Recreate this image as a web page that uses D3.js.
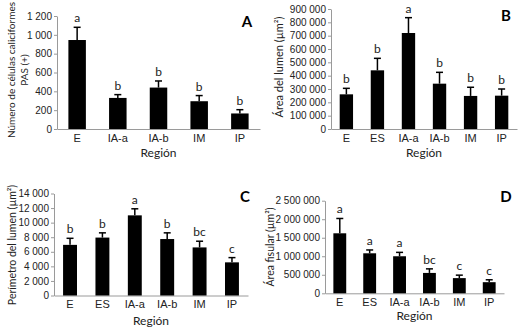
<!DOCTYPE html>
<html>
<head>
<meta charset="utf-8">
<script src="https://cdn.jsdelivr.net/npm/d3@7"></script>
<style>
  body { margin: 0; background: #fff; }
  svg { font-family: Lato, "Open Sans", sans-serif; }
</style>
</head>
<body>
<svg id="chart" width="528" height="328"></svg>
<script>
/* DATA */
const regionsA = ["E", "IA-a", "IA-b", "IM", "IP"];
const regionsBCD = ["E", "ES", "IA-a", "IA-b", "IM", "IP"];

// A: numero de celulas caliciformes
const meanA = [945, 330, 440, 295, 165];
const errA = [135, 35, 70, 60, 40];
const letA = ["a", "b", "b", "b", "b"];
const ticksA = [0, 200, 400, 600, 800, 1000, 1200];

// B: area del lumen
const meanB = [260000, 440000, 720000, 340000, 248000, 250000];
const errB = [45000, 90000, 115000, 85000, 65000, 50000];
const letB = ["b", "b", "a", "b", "b", "b"];
const ticksB = [0, 100000, 200000, 300000, 400000, 500000, 600000, 700000, 800000, 900000];

// C: perimetro del lumen
const meanC = [6950, 7950, 11000, 7750, 6600, 4550];
const errC = [900, 650, 900, 850, 850, 650];
const letC = ["b", "b", "a", "b", "bc", "c"];
const ticksC = [0, 2000, 4000, 6000, 8000, 10000, 12000, 14000];

// D: area fisular
const meanD = [1620000, 1080000, 1000000, 550000, 410000, 300000];
const errD = [400000, 90000, 105000, 110000, 80000, 65000];
const letD = ["a", "a", "a", "bc", "c", "c"];
const ticksD = [0, 500000, 1000000, 1500000, 2000000, 2500000];

const svg = d3.select("#chart");
const fmt = v => d3.format(",")(v).replace(/,/g, " ");

/// draw one panel
function panel(cfg) {
  const g = svg.append("g");

  const x = d3.scaleBand()
    .domain(cfg.cats)
    .range([cfg.x0, cfg.x1])
    .paddingInner(0.57)
    .paddingOuter(0.28);

  const y = d3.scaleLinear()
    .domain([0, d3.max(cfg.ticks)])
    .range([cfg.y0, cfg.y1]);

  // y axis
  const ya = g.append("g")
    .attr("transform", `translate(${cfg.x0},0)`)
    .call(d3.axisLeft(y).tickValues(cfg.ticks).tickFormat(fmt).tickSize(3).tickSizeOuter(0).tickPadding(2));
  ya.select(".domain").attr("stroke", "#9a9a9a");
  ya.selectAll(".tick line").attr("stroke", "#9a9a9a");
  ya.selectAll("text").attr("fill", "#222").style("font-size", "10px");

  // x axis
  const xa = g.append("g")
    .attr("transform", `translate(0,${cfg.y0})`)
    .call(d3.axisBottom(x).tickSize(0).tickPadding(5));
  xa.select(".domain").attr("stroke", "#9a9a9a");
  xa.selectAll("text").attr("fill", "#222").style("font-size", "11px");

  const rows = cfg.cats.map((c, i) => ({ c: c, m: cfg.mean[i], e: cfg.err[i], l: cfg.lets[i] }));

  // bars
  g.selectAll("rect.bar")
    .data(rows)
    .enter()
    .append("rect")
    .attr("x", d => x(d.c))
    .attr("y", d => y(d.m))
    .attr("width", x.bandwidth())
    .attr("height", d => y(0) - y(d.m))
    .attr("fill", "#000");

  // error bars (upper only)
  const cx = d => x(d.c) + x.bandwidth() / 2;
  g.selectAll("line.err")
    .data(rows)
    .enter()
    .append("line")
    .attr("x1", cx).attr("x2", cx)
    .attr("y1", d => y(d.m)).attr("y2", d => y(d.m + d.e))
    .attr("stroke", "#000").attr("stroke-width", 1.5);
  g.selectAll("line.cap")
    .data(rows)
    .enter()
    .append("line")
    .attr("x1", d => cx(d) - 3.5).attr("x2", d => cx(d) + 3.5)
    .attr("y1", d => y(d.m + d.e)).attr("y2", d => y(d.m + d.e))
    .attr("stroke", "#000").attr("stroke-width", 1.5);

  // significance letters
  g.selectAll("text.let")
    .data(rows)
    .enter()
    .append("text")
    .attr("x", cx)
    .attr("y", d => y(d.m + d.e) - 5)
    .attr("text-anchor", "middle")
    .attr("fill", "#222")
    .style("font-size", "12px")
    .text(d => d.l);

  // x title
  g.append("text")
    .attr("x", (cfg.x0 + cfg.x1) / 2)
    .attr("y", cfg.y0 + cfg.xtOff)
    .attr("text-anchor", "middle")
    .attr("fill", "#222")
    .style("font-size", "12px")
    .text("Región");

  // y title (one or two lines)
  cfg.ylab.forEach((t, i) => {
    g.append("text")
      .attr("transform", `translate(${cfg.ylx[i]},${cfg.yly}) rotate(-90)`)
      .attr("text-anchor", "middle")
      .attr("dy", "0.35em")
      .attr("fill", "#222")
      .style("font-size", cfg.ylfs)
      .text(t);
  });

  // panel letter
  g.append("text")
    .attr("x", cfg.tx)
    .attr("y", cfg.ty)
    .attr("text-anchor", "middle")
    .attr("fill", "#000")
    .style("font-size", "15px")
    .style("font-weight", "bold")
    .text(cfg.title);
}

panel({ cats: regionsA, mean: meanA, err: errA, lets: letA, ticks: ticksA,
  x0: 57, x1: 260, y0: 129, y1: 16, xtOff: 28,
  ylab: ["Número de células caliciformes", "PAS (+)"], ylx: [11, 24], yly: 70, ylfs: "10px",
  title: "A", tx: 247, ty: 27 });

panel({ cats: regionsBCD, mean: meanB, err: errB, lets: letB, ticks: ticksB,
  x0: 331, x1: 517, y0: 129, y1: 9, xtOff: 28,
  ylab: ["Área del lumen (µm²)"], ylx: [279], yly: 67, ylfs: "11px",
  title: "B", tx: 506, ty: 21 });

panel({ cats: regionsBCD, mean: meanC, err: errC, lets: letC, ticks: ticksC,
  x0: 54, x1: 248, y0: 295.5, y1: 193.5, xtOff: 29,
  ylab: ["Perímetro del lumen (µm²)"], ylx: [12], yly: 245, ylfs: "10.5px",
  title: "C", tx: 245, ty: 202 });

panel({ cats: regionsBCD, mean: meanD, err: errD, lets: letD, ticks: ticksD,
  x0: 325, x1: 504, y0: 293.3, y1: 200.7, xtOff: 27,
  ylab: ["Área fisular (µm²)"], ylx: [270], yly: 247, ylfs: "10.5px",
  title: "D", tx: 506, ty: 202 });
</script>
</body>
</html>
